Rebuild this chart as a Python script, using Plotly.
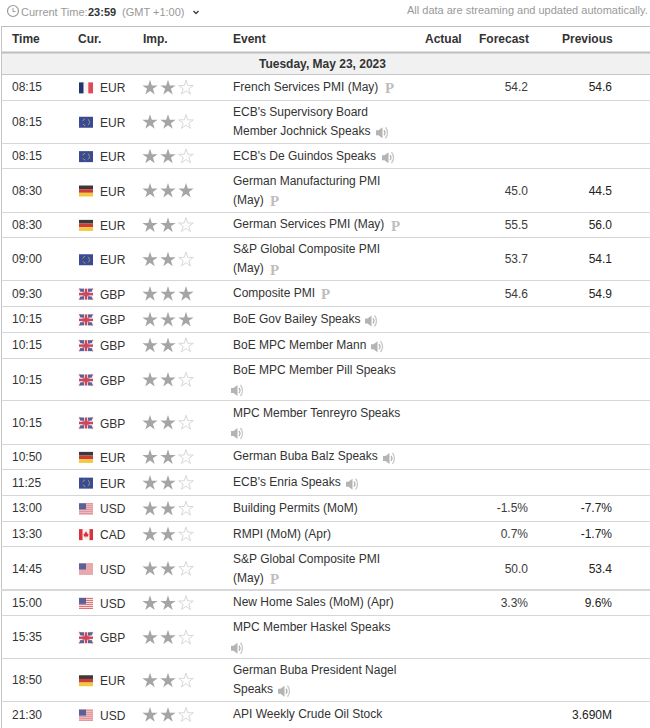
import plotly.graph_objects as go

times = ["08:15", "08:15", "08:15", "08:30", "08:30", "09:00", "09:30", "10:15", "10:15", "10:15",
         "10:15", "10:50", "11:25", "13:00", "13:30", "14:45", "15:00", "15:35", "18:50", "21:30"]
flags = ["FR", "EU", "EU", "DE", "DE", "EU", "GB", "GB", "GB", "GB",
         "GB", "DE", "EU", "US", "CA", "US", "US", "GB", "DE", "US"]
currencies = ["EUR", "EUR", "EUR", "EUR", "EUR", "EUR", "GBP", "GBP", "GBP", "GBP",
              "GBP", "EUR", "EUR", "USD", "CAD", "USD", "USD", "GBP", "EUR", "USD"]
importance = [2, 2, 2, 3, 2, 2, 3, 3, 2, 2, 2, 2, 2, 2, 2, 2, 2, 2, 2, 2]
events = [
    ["French Services PMI (May)"],
    ["ECB's Supervisory Board", "Member Jochnick Speaks"],
    ["ECB's De Guindos Speaks"],
    ["German Manufacturing PMI", "(May)"],
    ["German Services PMI (May)"],
    ["S&P Global Composite PMI", "(May)"],
    ["Composite PMI"],
    ["BoE Gov Bailey Speaks"],
    ["BoE MPC Member Mann"],
    ["BoE MPC Member Pill Speaks", ""],
    ["MPC Member Tenreyro Speaks", ""],
    ["German Buba Balz Speaks"],
    ["ECB's Enria Speaks"],
    ["Building Permits (MoM)"],
    ["RMPI (MoM) (Apr)"],
    ["S&P Global Composite PMI", "(May)"],
    ["New Home Sales (MoM) (Apr)"],
    ["MPC Member Haskel Speaks", ""],
    ["German Buba President Nagel", "Speaks"],
    ["API Weekly Crude Oil Stock"],
]
forecast = ["54.2", "", "", "45.0", "55.5", "53.7", "54.6", "", "", "", "", "", "", "-1.5%", "0.7%", "50.0", "3.3%", "", "", ""]
previous = ["54.6", "", "", "44.5", "56.0", "54.1", "54.9", "", "", "", "", "", "", "-7.7%", "-1.7%", "53.4", "9.6%", "", "", "3.690M"]

# left edge of the little icons after the event name, row index -> x
prelim_x = {0: 385, 3: 270, 4: 391, 5: 270, 6: 321, 15: 270}
speaker_x = {1: 376, 2: 382, 7: 365, 8: 371, 9: 231, 10: 231, 11: 383, 12: 346, 17: 231, 18: 278}

TXT = "#333333"
GREY = "#999999"
LINE = "#d6d6d6"
FONT = "Liberation Sans"

fig = go.Figure()
shapes = []


def hline(y, color=LINE, w=1):
    shapes.append(dict(type="line", x0=1, x1=650, y0=y, y1=y, line=dict(color=color, width=w)))


def rect(x0, y0, x1, y1, color):
    shapes.append(dict(type="rect", x0=x0, x1=x1, y0=y0, y1=y1, fillcolor=color, line=dict(width=0)))


def path(d, fill=None, stroke=None, w=1):
    shapes.append(dict(type="path", path=d, fillcolor=fill or "rgba(0,0,0,0)",
                       line=dict(color=stroke or "rgba(0,0,0,0)", width=w if stroke else 0)))


def speaker(x, y):
    c = "#b4b4b4"
    path(f"M{x},{y-2.5} L{x+2.5},{y-2.5} L{x+6.5},{y-5.5} L{x+6.5},{y+5.5} L{x+2.5},{y+2.5} L{x},{y+2.5} Z", fill=c)
    path(f"M{x+8},{y-2.5} Q{x+10},{y} {x+8},{y+2.5}", stroke=c, w=1.3)
    path(f"M{x+9.5},{y-5.5} Q{x+13.5},{y} {x+9.5},{y+5.5}", stroke="#c8c8c8", w=1.3)


def flag(code, y):
    x0, x1 = 79, 93
    y0, y1 = y - 5.5, y + 5.5
    if code == "FR":
        rect(x0, y0, x0 + 4.7, y1, "#23336e")
        rect(x0 + 4.7, y0, x0 + 9.3, y1, "#f4f4f4")
        rect(x0 + 9.3, y0, x1, y1, "#e04a57")
    elif code == "DE":
        rect(x0, y0, x1, y0 + 3.7, "#3a3a3a")
        rect(x0, y0 + 3.7, x1, y0 + 7.3, "#cf3b36")
        rect(x0, y0 + 7.3, x1, y1, "#f2c83c")
    elif code == "EU":
        rect(x0, y0, x1, y1, "#3b4a94")
        shapes.append(dict(type="circle", x0=x0 + 3.5, x1=x1 - 3.5, y0=y - 3.5, y1=y + 3.5,
                           line=dict(color="#a8a060", width=1, dash="dot")))
    elif code == "GB":
        rect(x0, y0, x1, y1, "#f0eef2")
        path(f"M{x0},{y0} L{x1},{y1} M{x1},{y0} L{x0},{y1}", stroke="#c9808f", w=1.6)
        for a, b in [(x0 + 1, x0 + 5), (x1 - 5, x1 - 1)]:
            rect(a, y0, b, y0 + 3, "#5a6396")
            rect(a, y1 - 3, b, y1, "#5a6396")
        rect(x0 + 5.8, y0, x1 - 5.8, y1, "#d0455a")
        rect(x0, y - 1.2, x1, y + 1.2, "#d0455a")
    elif code == "US":
        rect(x0, y0, x1, y1, "#f6f0f0")
        for i in range(6):
            rect(x0, y0 + i * 2, x1, y0 + i * 2 + 1, "#d8606c")
        rect(x0, y0, x0 + 7, y0 + 6, "#5a6098")
    elif code == "CA":
        rect(x0, y0, x1, y1, "#f6f2f2")
        rect(x0, y0, x0 + 3.5, y1, "#d9323c")
        rect(x1 - 3.5, y0, x1, y1, "#d9323c")
        path(f"M{x0+7},{y-3.5} L{x0+8.5},{y-1} L{x0+9.5},{y-1} L{x0+9},{y+2} L{x0+7.3},{y+1.5} L{x0+7.3},{y+3} "
             f"L{x0+6.7},{y+3} L{x0+6.7},{y+1.5} L{x0+5},{y+2} L{x0+4.5},{y-1} L{x0+5.5},{y-1} Z", fill="#d9323c")


# row tops come from how many text lines each event takes
tops = []
y = 74
for ev in events:
    tops.append(y)
    y += 43 if len(ev) == 2 else 25.75

rect(1, 52, 650, 74, "#f1f1f1")
hline(26.5, "#bdbdbd", 1)
hline(52.5, "#bdbdbd", 2)
hline(74.5, "#c6c6c6", 1)
shapes.append(dict(type="line", x0=1.5, x1=1.5, y0=26, y1=728, line=dict(color="#c4c4c4", width=1)))

left_x, left_y, left_txt = [], [], []
val_y = []
p_x, p_y = [], []
star_x, star_y, open_x, open_y = [], [], [], []

for i, top in enumerate(tops):
    h = 43 if len(events[i]) == 2 else 25.75
    mid = top + h / 2
    if i > 0:
        hline(round(top) + 0.5)
    left_x += [12, 100]
    left_y += [mid + 1.5, mid + 2.5]
    left_txt += [times[i], currencies[i]]
    val_y.append(mid + 1.5)
    flag(flags[i], mid + 1)
    for s in range(3):
        if s < importance[i]:
            star_x.append(150 + s * 18)
            star_y.append(mid + 1)
        else:
            open_x.append(150 + s * 18)
            open_y.append(mid + 1)
    if len(events[i]) == 2:
        line_y = [mid - 8.5, mid + 10.5]
    else:
        line_y = [mid + 1]
    for txt, ly in zip(events[i], line_y):
        if txt:
            left_x.append(233)
            left_y.append(ly)
            left_txt.append(txt)
    if i in prelim_x:
        p_x.append(prelim_x[i])
        p_y.append(line_y[-1] + 1.5)
    if i in speaker_x:
        speaker(speaker_x[i], line_y[-1] + 1)

# thicker separator above New Home Sales
hline(tops[16] + 0.5, "#d8d8d8", 2)

fig.add_trace(go.Scatter(x=left_x, y=left_y, text=left_txt, mode="text", textposition="middle right",
                         textfont=dict(family=FONT, size=12, color=TXT), hoverinfo="skip"))
fig.add_trace(go.Scatter(x=[528] * len(forecast), y=val_y, text=forecast, mode="text", textposition="middle left",
                         textfont=dict(family=FONT, size=12, color="#3c3c3c"), hoverinfo="skip"))
fig.add_trace(go.Scatter(x=[612] * len(previous), y=val_y, text=previous, mode="text", textposition="middle left",
                         textfont=dict(family=FONT, size=12, color="#222222"), hoverinfo="skip"))
fig.add_trace(go.Scatter(x=p_x, y=p_y, text=["<b>P</b>"] * len(p_x), mode="text", textposition="middle right",
                         textfont=dict(family="Liberation Serif", size=15, color="#bdbdbd"), hoverinfo="skip"))
fig.add_trace(go.Scatter(x=star_x, y=star_y, mode="markers", hoverinfo="skip",
                         marker=dict(symbol="star", size=11.5, color="#a5a5a5", line=dict(width=0))))
fig.add_trace(go.Scatter(x=open_x, y=open_y, mode="markers", hoverinfo="skip",
                         marker=dict(symbol="star-open", size=11, color="#d8d8d8", line=dict(width=1, color="#d8d8d8"))))


def label(x, y, text, anchor="left", color=TXT, bold=False, size=12):
    if bold:
        text = f"<b>{text}</b>"
    fig.add_annotation(x=x, y=y, text=text, showarrow=False, xanchor=anchor, yanchor="middle",
                       font=dict(family=FONT, size=size, color=color))


# header row
label(10, 38.5, "Time", bold=True)
label(76, 38.5, "Cur.", bold=True)
label(141, 38.5, "Imp.", bold=True)
label(231, 38.5, "Event", bold=True)
label(464, 38.5, "Actual", anchor="right", bold=True)
label(531, 38.5, "Forecast", anchor="right", bold=True)
label(615, 38.5, "Previous", anchor="right", bold=True)
label(322, 63.5, "Tuesday, May 23, 2023", anchor="center", bold=True)

# strip above the table
label(19, 11.5, "Current Time:", color=GREY, size=11)
label(86, 11.5, "23:59", bold=True, size=11)
label(120, 11.5, "(GMT +1:00)", color=GREY, size=11)
label(650, 9.5, "All data are streaming and updated automatically.", anchor="right", color=GREY, size=11)
shapes.append(dict(type="circle", x0=7.5, x1=18.5, y0=5.5, y1=16.5, line=dict(color="#9a9a9a", width=1.2)))
path("M13,8 L13,11.5 L15.5,11.5", stroke="#9a9a9a", w=1)
path("M193.5,11 L196,13.5 L198.5,11", stroke="#444444", w=1.5)

for s in shapes:
    s.setdefault("layer", "below")

fig.update_layout(
    width=650, height=728, margin=dict(l=0, r=0, t=0, b=0), showlegend=False,
    paper_bgcolor="white", plot_bgcolor="white", shapes=shapes,
    xaxis=dict(range=[0, 650], visible=False, fixedrange=True),
    yaxis=dict(range=[728, 0], visible=False, fixedrange=True),
)

fig.write_html("out.html", config=dict(displayModeBar=False),
               post_script="document.body.style.margin='0';")
